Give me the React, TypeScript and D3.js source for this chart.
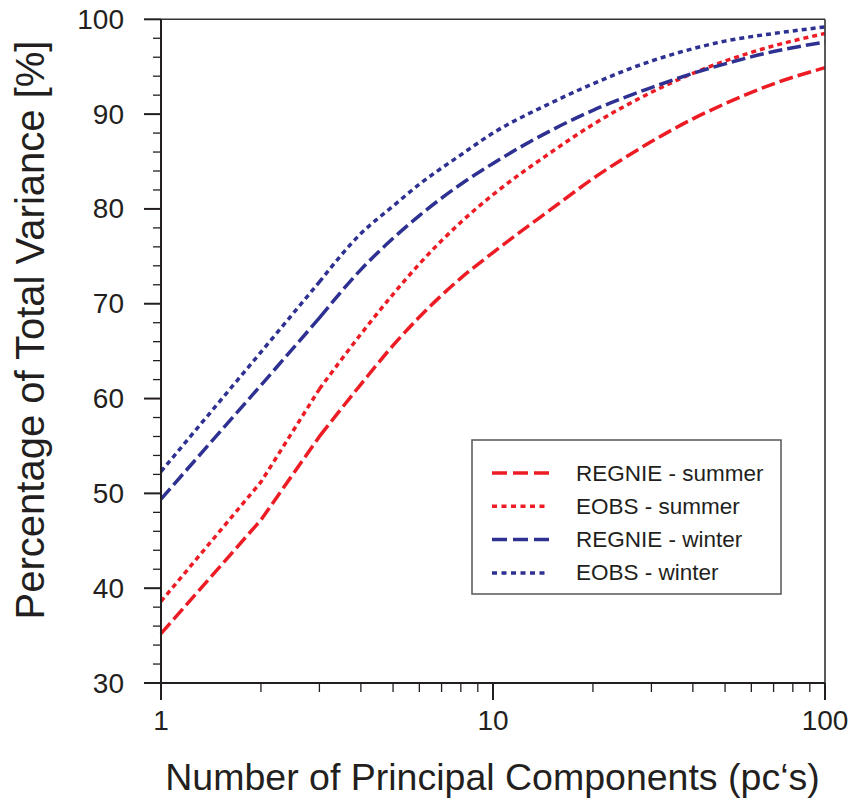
import React from "react";
import * as d3 from "d3";

const pcs = [1, 2, 3, 4, 5, 6, 8, 10, 15, 20, 30, 40, 50, 70, 100];
const regnieSummer = [35.2, 47.2, 56.0, 61.5, 65.6, 68.6, 72.7, 75.4, 80.0, 83.2, 87.1, 89.5, 91.1, 93.2, 94.9];
const eobsSummer = [38.6, 51.2, 61.0, 66.8, 71.0, 74.2, 78.6, 81.5, 86.0, 88.9, 92.3, 94.3, 95.6, 97.2, 98.5];
const regnieWinter = [49.4, 61.4, 68.5, 73.6, 76.9, 79.3, 82.6, 84.8, 88.3, 90.4, 92.8, 94.3, 95.3, 96.6, 97.6];
const eobsWinter = [52.3, 64.9, 72.3, 77.4, 80.3, 82.6, 85.7, 88.0, 91.2, 93.2, 95.6, 96.9, 97.7, 98.5, 99.2];

const seriesNames = ["REGNIE - summer", "EOBS - summer", "REGNIE - winter", "EOBS - winter"];
const seriesValues = [regnieSummer, eobsSummer, regnieWinter, eobsWinter];
const seriesColors = ["#ed1c24", "#ed1c24", "#2e3192", "#2e3192"];
const seriesDash = ["14,5", "5,4", "14,5", "5,4"];
const legendDash = ["15,6", "5,4.5", "15,6", "5,4.5"];

const xMajorTicks = [1, 10, 100];
const xMinorTicks = [2, 3, 4, 5, 6, 7, 8, 9, 20, 30, 40, 50, 60, 70, 80, 90];
const yMajorTicks = [30, 40, 50, 60, 70, 80, 90, 100];

const xTitle = "Number of Principal Components (pc\u2018s)";
const yTitle = "Percentage of Total Variance [%]";

const W = 853;
const H = 805;
const FONT = "'Liberation Sans', Arial, Helvetica, sans-serif";
const INK = "#231f20";

export default function App() {
  const x = d3.scaleLog().domain([1, 100]).range([161, 825]);
  const y = d3.scaleLinear().domain([30, 100]).range([683, 19.3]);
  const yMinor = d3.range(30, 100.01, 2).filter((v) => v % 10 !== 0);

  const lineLin = d3
    .line<[number, number]>()
    .x((d) => x(d[0]))
    .y((d) => y(d[1]));
  const lineSmooth = d3
    .line<[number, number]>()
    .x((d) => x(d[0]))
    .y((d) => y(d[1]))
    .curve(d3.curveMonotoneX);

  const [x0, x1] = x.range();
  const [yb, yt] = y.range();

  const legX = 472;
  const legY = 440;
  const legW = 309;
  const legH = 154;
  const legRow = (i: number) => legY + 33 + i * 33.3;

  return (
    <svg
      width={W}
      height={H}
      style={{ position: "absolute", left: 0, top: 0, background: "#fff" }}
      fontFamily={FONT}
    >
      <rect x={0} y={0} width={W} height={H} fill="#fff" />
      {seriesValues.map((vals, i) => {
        const pts = pcs.map((p, j) => [p, vals[j]] as [number, number]);
        const d = (lineLin(pts.slice(0, 3)) || "") + " " + (lineSmooth(pts.slice(2)) || "");
        return (
          <path
            key={i}
            d={d}
            fill="none"
            stroke={seriesColors[i]}
            strokeWidth={3.5}
            strokeDasharray={seriesDash[i]}
          />
        );
      })}
      <line x1={x0} x2={x1} y1={yt} y2={yt} stroke="#333" strokeWidth={1.6} />
      <line x1={x1} x2={x1} y1={yt} y2={yb} stroke="#333" strokeWidth={1.6} />
      <line x1={x0} x2={x1} y1={yb} y2={yb} stroke={INK} strokeWidth={2} />
      <line x1={x0} x2={x0} y1={yt} y2={yb} stroke={INK} strokeWidth={2} />
      {yMajorTicks.map((v) => (
        <g key={"ym" + v}>
          <line x1={x0 - 17} x2={x0} y1={y(v)} y2={y(v)} stroke={INK} strokeWidth={2} />
          <text
            x={124}
            y={y(v)}
            textAnchor="end"
            dominantBaseline="central"
            fontSize={28}
            fill={INK}
          >
            {v}
          </text>
        </g>
      ))}
      {yMinor.map((v) => (
        <line key={"yn" + v} x1={x0 - 8} x2={x0} y1={y(v)} y2={y(v)} stroke={INK} strokeWidth={1.3} />
      ))}
      {xMajorTicks.map((v) => (
        <g key={"xm" + v}>
          <line x1={x(v)} x2={x(v)} y1={yb} y2={yb + 17} stroke={INK} strokeWidth={2} />
          <text x={x(v)} y={730} textAnchor="middle" fontSize={28} fill={INK}>
            {v}
          </text>
        </g>
      ))}
      {xMinorTicks.map((v) => (
        <line key={"xn" + v} x1={x(v)} x2={x(v)} y1={yb} y2={yb + 9} stroke={INK} strokeWidth={1.3} />
      ))}
      <text x={492.5} y={790} textAnchor="middle" fontSize={37.5} fill={INK}>
        {xTitle}
      </text>
      <text
        transform={`translate(44, 330) rotate(-90)`}
        textAnchor="middle"
        fontSize={40}
        fill={INK}
      >
        {yTitle}
      </text>
      <rect x={legX} y={legY} width={legW} height={legH} fill="#fff" stroke="#555" strokeWidth={1.5} />
      {seriesNames.map((name, i) => (
        <g key={"leg" + i}>
          <line
            x1={492}
            x2={549}
            y1={legRow(i)}
            y2={legRow(i)}
            stroke={seriesColors[i]}
            strokeWidth={3.5}
            strokeDasharray={legendDash[i]}
          />
          <text x={576} y={legRow(i)} dominantBaseline="central" fontSize={22.5} fill={INK}>
            {name}
          </text>
        </g>
      ))}
    </svg>
  );
}
